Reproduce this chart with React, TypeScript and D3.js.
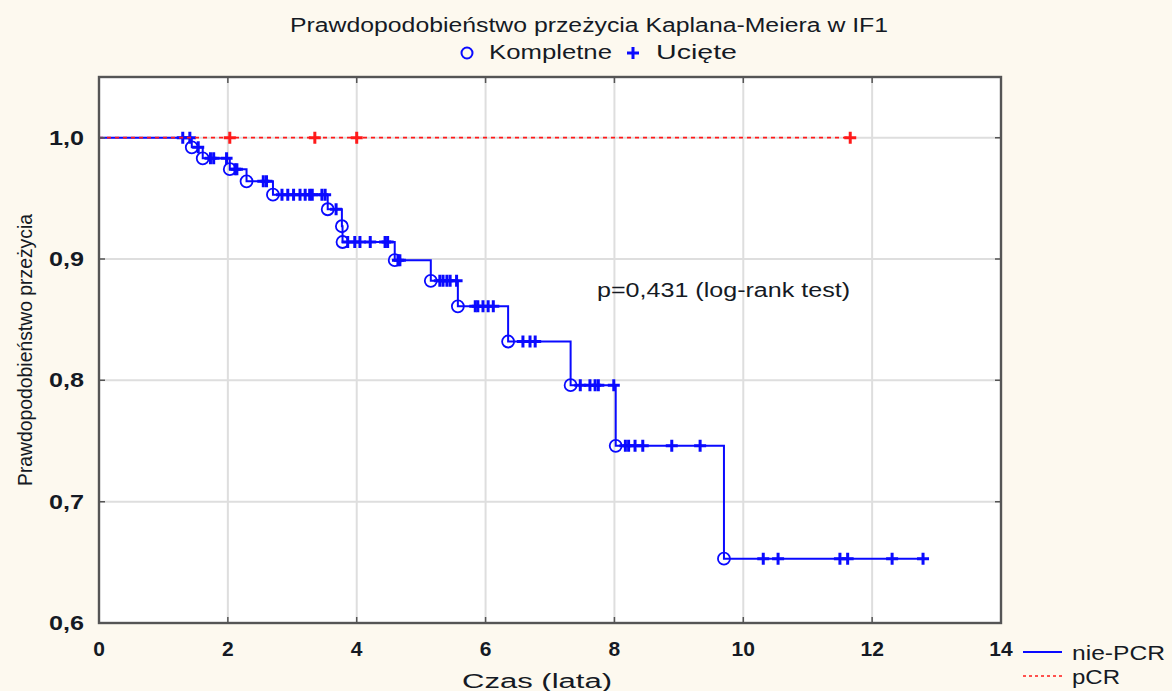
import * as d3 from "d3";
import { useEffect, useRef } from "react";

// axis ticks
const xTicks = [0, 2, 4, 6, 8, 10, 12, 14];
const yTicks = [0.6, 0.7, 0.8, 0.9, 1.0];

// nie-PCR: events (time, survival after event)
const nieEventTimes = [
  1.44, 1.61, 2.03, 2.29, 2.7, 3.55, 3.77, 3.78, 4.59, 5.15, 5.57, 6.35, 7.32,
  8.02, 9.7,
];
const nieEventSurv = [
  0.992, 0.983, 0.974, 0.964, 0.953, 0.941, 0.927, 0.914, 0.899, 0.882, 0.861,
  0.832, 0.796, 0.746, 0.653,
];
// nie-PCR: censored times
const nieCensored = [
  1.3, 1.41, 1.54, 1.73, 1.78, 1.98, 2.11, 2.14, 2.55, 2.6, 2.84, 2.93, 3.02,
  3.12, 3.2, 3.27, 3.31, 3.46, 3.51, 3.68, 3.86, 3.97, 4.05, 4.21, 4.44, 4.48,
  4.64, 4.67, 5.29, 5.34, 5.4, 5.45, 5.55, 5.84, 5.88, 5.96, 6.04, 6.12, 6.58,
  6.69, 6.77, 7.47, 7.62, 7.7, 7.75, 7.99, 8.17, 8.22, 8.32, 8.44, 8.89, 9.33,
  10.31, 10.54, 11.5, 11.62, 12.31, 12.79,
];

// pCR: no events, censored only
const pcrCensored = [2.03, 3.35, 4.0, 11.66];

const FONT = "'Liberation Sans', Arial, sans-serif";
const BLUE = "#0a0aff";
const RED = "#ff1a1a";
const INK = "#151a24";

const KaplanMeierChart = ({ width, height }) => {
  const svgRef = useRef(null);

  useEffect(() => {
    const plot = { left: 99, right: 1001, top: 77, bottom: 623 };
    const svg = d3.select(svgRef.current);
    svg.selectAll("*").remove();
    svg.attr("width", width).attr("height", height);

    const xScale = d3.scaleLinear().domain([0, 14]).range([plot.left, plot.right]);
    const yScale = d3.scaleLinear().domain([0.6, 1.05]).range([plot.bottom, plot.top]);

    const fmt = (v) => d3.format(".1f")(v).replace(".", ",");
    const survAt = (t) => {
      let s = 1;
      nieEventTimes.forEach((et, i) => {
        if (et <= t) s = nieEventSurv[i];
      });
      return s;
    };
    const crossPath = (cx, cy, r) =>
      `M${cx - r},${cy}H${cx + r}M${cx},${cy - r}V${cy + r}`;

    // backgrounds
    svg.append("rect").attr("width", width).attr("height", height).attr("fill", "#fdf9ef");
    svg
      .append("rect")
      .attr("x", plot.left)
      .attr("y", plot.top)
      .attr("width", plot.right - plot.left)
      .attr("height", plot.bottom - plot.top)
      .attr("fill", "#ffffff");

    // grid
    svg
      .selectAll(".gx")
      .data(xTicks.slice(1, -1))
      .enter()
      .append("line")
      .attr("x1", (d) => xScale(d))
      .attr("x2", (d) => xScale(d))
      .attr("y1", plot.top)
      .attr("y2", plot.bottom)
      .attr("stroke", "#dedede")
      .attr("stroke-width", 2);
    svg
      .selectAll(".gy")
      .data(yTicks.slice(1))
      .enter()
      .append("line")
      .attr("x1", plot.left)
      .attr("x2", plot.right)
      .attr("y1", (d) => yScale(d))
      .attr("y2", (d) => yScale(d))
      .attr("stroke", "#dedede")
      .attr("stroke-width", 2);

    // nie-PCR step line
    const lastT = nieCensored[nieCensored.length - 1];
    const stepPts = [
      { t: 0, s: 1 },
      ...nieEventTimes.map((t, i) => ({ t, s: nieEventSurv[i] })),
      { t: lastT, s: survAt(lastT) },
    ];
    const stepLine = d3
      .line()
      .x((d) => xScale(d.t))
      .y((d) => yScale(d.s))
      .curve(d3.curveStepAfter);
    svg
      .append("path")
      .attr("d", stepLine(stepPts))
      .attr("fill", "none")
      .attr("stroke", BLUE)
      .attr("stroke-width", 2);

    svg
      .selectAll(".ev")
      .data(nieEventTimes)
      .enter()
      .append("circle")
      .attr("cx", (d) => xScale(d))
      .attr("cy", (d, i) => yScale(nieEventSurv[i]))
      .attr("r", 6)
      .attr("fill", "none")
      .attr("stroke", BLUE)
      .attr("stroke-width", 1.8);

    svg
      .selectAll(".cens")
      .data(nieCensored)
      .enter()
      .append("path")
      .attr("d", (d) => crossPath(xScale(d), yScale(survAt(d)), 6))
      .attr("stroke", BLUE)
      .attr("stroke-width", 3);

    // pCR line
    svg
      .append("line")
      .attr("x1", xScale(0))
      .attr("x2", xScale(pcrCensored[pcrCensored.length - 1]))
      .attr("y1", yScale(1))
      .attr("y2", yScale(1))
      .attr("stroke", RED)
      .attr("stroke-width", 1.6)
      .attr("stroke-dasharray", "4,4");
    svg
      .selectAll(".pc")
      .data(pcrCensored)
      .enter()
      .append("path")
      .attr("d", (d) => crossPath(xScale(d), yScale(1), 6))
      .attr("stroke", RED)
      .attr("stroke-width", 3);

    // frame
    svg
      .append("rect")
      .attr("x", plot.left)
      .attr("y", plot.top)
      .attr("width", plot.right - plot.left)
      .attr("height", plot.bottom - plot.top)
      .attr("fill", "none")
      .attr("stroke", "#555555")
      .attr("stroke-width", 2.4);

    // ticks (inward)
    yTicks.forEach((v) => {
      svg
        .append("path")
        .attr("d", `M${plot.left},${yScale(v)}h6M${plot.right},${yScale(v)}h-6`)
        .attr("stroke", "#555555")
        .attr("stroke-width", 1.5);
    });
    xTicks.forEach((v) => {
      svg
        .append("path")
        .attr("d", `M${xScale(v)},${plot.bottom}v-6M${xScale(v)},${plot.top}v6`)
        .attr("stroke", "#555555")
        .attr("stroke-width", 1.5);
    });

    // tick labels
    svg
      .selectAll(".yl")
      .data(yTicks)
      .enter()
      .append("text")
      .attr("x", 84)
      .attr("y", (d) => yScale(d) + 7)
      .attr("text-anchor", "end")
      .attr("font-family", FONT)
      .attr("font-size", 20)
      .attr("font-weight", "bold")
      .attr("fill", INK)
      .attr("textLength", 35)
      .attr("lengthAdjust", "spacingAndGlyphs")
      .text((d) => fmt(d));
    svg
      .selectAll(".xl")
      .data(xTicks)
      .enter()
      .append("text")
      .attr("x", (d) => xScale(d))
      .attr("y", 656)
      .attr("text-anchor", "middle")
      .attr("font-family", FONT)
      .attr("font-size", 21)
      .attr("font-weight", "bold")
      .attr("fill", INK)
      .text((d) => d);

    const addText = (txt, x, y, len, size) =>
      svg
        .append("text")
        .attr("x", x)
        .attr("y", y)
        .attr("font-family", FONT)
        .attr("font-size", size)
        .attr("fill", INK)
        .attr("textLength", len)
        .attr("lengthAdjust", "spacingAndGlyphs")
        .text(txt);

    // titles
    addText("Prawdopodobieństwo przeżycia Kaplana-Meiera w IF1", 290, 32, 598, 20);
    addText("Kompletne", 489, 59, 123, 20);
    addText("Ucięte", 656, 59, 81, 20);
    svg
      .append("circle")
      .attr("cx", 467)
      .attr("cy", 53)
      .attr("r", 5.5)
      .attr("fill", "none")
      .attr("stroke", BLUE)
      .attr("stroke-width", 2);
    svg
      .append("path")
      .attr("d", crossPath(633, 53, 6))
      .attr("stroke", BLUE)
      .attr("stroke-width", 3);

    addText("p=0,431 (log-rank test)", 597, 297, 253, 20);
    addText("Czas (lata)", 462, 688, 150, 20);
    svg
      .append("g")
      .attr("transform", "translate(32,350) rotate(-90)")
      .append("text")
      .attr("text-anchor", "middle")
      .attr("font-family", FONT)
      .attr("font-size", 20)
      .attr("fill", INK)
      .attr("textLength", 272)
      .attr("lengthAdjust", "spacingAndGlyphs")
      .text("Prawdopodobieństwo przeżycia");

    // series legend
    svg
      .append("line")
      .attr("x1", 1023)
      .attr("x2", 1062)
      .attr("y1", 652)
      .attr("y2", 652)
      .attr("stroke", BLUE)
      .attr("stroke-width", 2);
    svg
      .append("line")
      .attr("x1", 1023)
      .attr("x2", 1062)
      .attr("y1", 676)
      .attr("y2", 676)
      .attr("stroke", RED)
      .attr("stroke-width", 1.6)
      .attr("stroke-dasharray", "3,3");
    addText("nie-PCR", 1072, 660, 93, 20);
    addText("pCR", 1072, 684, 48, 20);
  }, [width, height]);

  return (
    <svg
      ref={svgRef}
      style={{ position: "absolute", left: 0, top: 0, display: "block" }}
    ></svg>
  );
};

export default function App() {
  return <KaplanMeierChart width={1172} height={691} />;
}
